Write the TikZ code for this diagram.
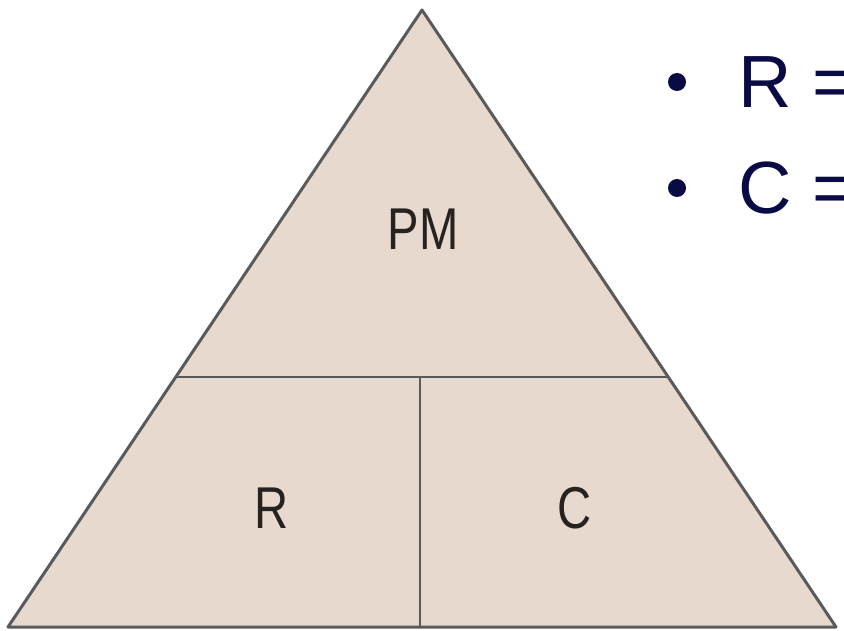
\documentclass[tikz,border=0pt]{standalone}
\usepackage{fontspec}
\setmainfont{Liberation Sans}
\newfontfamily\narrowfont[FakeStretch=0.8]{Liberation Sans}
\definecolor{tri}{HTML}{E8D9CF}
\definecolor{edge}{HTML}{5A5A5A}
\definecolor{navy}{HTML}{0A0A45}
\definecolor{ink}{HTML}{262220}
\tikzset{
  cell/.style={font=\narrowfont\fontsize{59}{59}\selectfont, text=ink, inner sep=0pt},
  bul/.style={font=\fontsize{74}{74}\selectfont, text=navy, inner sep=0pt, anchor=base west},
  dot/.style={circle, fill=navy, minimum size=18pt, inner sep=0pt}
}
\begin{document}
\begin{tikzpicture}[x=1pt,y=-1pt]
\useasboundingbox (0,0) rectangle (844,631);
\clip (0,0) rectangle (844,631);
\coordinate (A) at (422,10);
\coordinate (BL) at (8,627);
\coordinate (BR) at (836,627);
\coordinate (ML) at (177,377);
\coordinate (MR) at (667,377);
\coordinate (MT) at (420,377);
\coordinate (MB) at (420,627);
\draw[edge, line width=3pt, line join=round, fill=tri] (A) -- (BR) -- (BL) -- cycle;
\draw[edge, line width=2.2pt] (ML) -- (MR);
\draw[edge, line width=2.2pt] (MT) -- (MB);
\node[cell] (pm) at (423,229) {PM};
\node[cell] (r) at (272,508) {R};
\node[cell] (c) at (575,508) {C};
\node[dot] (d1) at (677,82) {};
\node[dot] (d2) at (677,188) {};
\node[bul] (t1) at (738,108) {R =};
\node[bul] (t2) at (738,214) {C =};
\end{tikzpicture}
\end{document}
